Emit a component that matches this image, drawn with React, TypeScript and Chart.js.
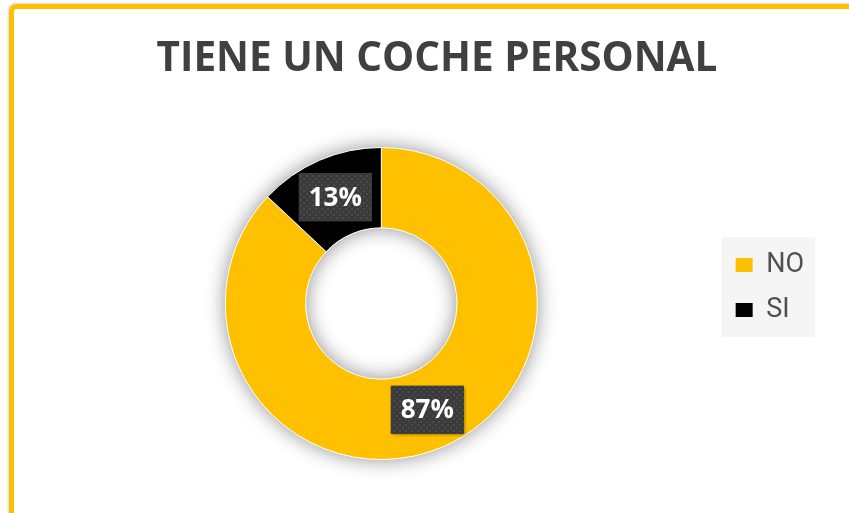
import React, { useEffect, useRef } from 'react';
import { Chart, registerables } from 'chart.js';

Chart.register(...registerables);

const chartTitle = 'TIENE UN COCHE PERSONAL';
const categories = ['NO', 'SI'];
const values = [87, 13];
const sliceColors = ['#FFC000', '#000000'];

const ringShadow = {
  id: 'ringShadow',
  beforeDatasetsDraw(chart: any) {
    const arc = chart.getDatasetMeta(0).data[0];
    if (!arc) return;
    const { x, y, outerRadius, innerRadius } = arc.getProps(['x', 'y', 'outerRadius', 'innerRadius'], true);
    const ctx = chart.ctx;
    ctx.save();
    ctx.beginPath();
    ctx.arc(x, y, outerRadius, 0, Math.PI * 2);
    ctx.moveTo(x + innerRadius, y);
    ctx.arc(x, y, innerRadius, 0, Math.PI * 2, true);
    ctx.closePath();
    ctx.shadowColor = 'rgba(0,0,0,0.45)';
    ctx.shadowBlur = 20;
    ctx.fillStyle = '#ffffff';
    ctx.fill('evenodd');
    ctx.restore();
  },
};

const legendPanel = {
  id: 'legendPanel',
  beforeDraw(chart: any) {
    const boxes = chart.legend && chart.legend.legendHitBoxes;
    if (!boxes || !boxes.length) return;
    const first = boxes[0];
    const last = boxes[boxes.length - 1];
    const left = Math.min(...boxes.map((b: any) => b.left)) - 14;
    const right = Math.max(...boxes.map((b: any) => b.left + b.width)) + 11;
    const top = first.top - 14.5;
    const bottom = last.top + last.height + 13.5;
    const ctx = chart.ctx;
    ctx.save();
    ctx.fillStyle = '#f5f5f5';
    ctx.fillRect(left, top, right - left, bottom - top);
    ctx.restore();
  },
};

function makePattern(ctx: CanvasRenderingContext2D) {
  const c = document.createElement('canvas');
  c.width = 6;
  c.height = 6;
  const p = c.getContext('2d')!;
  p.fillStyle = '#3a3a3a';
  p.fillRect(0, 0, 6, 6);
  p.fillStyle = '#4a4a4a';
  p.fillRect(1, 1, 2, 2);
  p.fillRect(4, 4, 2, 2);
  return ctx.createPattern(c, 'repeat');
}

const sliceLabels = {
  id: 'sliceLabels',
  afterDatasetsDraw(chart: any) {
    const meta = chart.getDatasetMeta(0);
    const data = chart.data.datasets[0].data as number[];
    const total = data.reduce((a, b) => a + b, 0);
    const ctx: CanvasRenderingContext2D = chart.ctx;
    const pattern = makePattern(ctx);
    ctx.save();
    ctx.font = 'bold 26px "Open Sans"';
    meta.data.forEach((arc: any, i: number) => {
      const p = arc.tooltipPosition(true);
      const text = Math.round((data[i] / total) * 100) + '%';
      const w = Math.round(ctx.measureText(text).width + 20);
      const h = 48;
      const bx = p.x - w / 2;
      const by = p.y - h / 2;
      ctx.save();
      ctx.shadowColor = 'rgba(0,0,0,0.45)';
      ctx.shadowBlur = 3;
      ctx.shadowOffsetX = 1.5;
      ctx.shadowOffsetY = 1.5;
      ctx.fillStyle = '#3a3a3a';
      ctx.fillRect(bx, by, w, h);
      ctx.restore();
      if (pattern) {
        ctx.fillStyle = pattern;
        ctx.fillRect(bx, by, w, h);
      }
      ctx.fillStyle = '#ffffff';
      ctx.textAlign = 'center';
      ctx.textBaseline = 'middle';
      ctx.fillText(text, p.x, p.y + 1);
    });
    ctx.restore();
  },
};

export default function App() {
  const ref = useRef<HTMLCanvasElement>(null);

  useEffect(() => {
    if (!ref.current) return;
    const baseGen = (Chart as any).overrides.doughnut.plugins.legend.labels.generateLabels;
    const chart = new Chart(ref.current, {
      type: 'doughnut',
      data: {
        labels: categories,
        datasets: [
          {
            data: values,
            backgroundColor: sliceColors,
            borderColor: '#ffffff',
            borderWidth: 1,
          },
        ],
      },
      options: {
        responsive: false,
        animation: false,
        devicePixelRatio: 1,
        events: [],
        radius: 156,
        cutout: '48.5%',
        layout: { padding: { left: 31, right: 35, top: 224.5, bottom: 139.5 } },
        plugins: {
          title: { display: false },
          tooltip: { enabled: false },
          legend: {
            position: 'right',
            align: 'start',
            fullSize: false,
            labels: {
              boxWidth: 17,
              boxHeight: 14,
              padding: 18,
              color: '#505050',
              font: { family: 'Roboto', size: 27 },
              generateLabels: (c: any) => baseGen(c).map((l: any) => ({ ...l, lineWidth: 0 })),
            },
          },
        },
      } as any,
      plugins: [ringShadow, legendPanel, sliceLabels],
    });
    return () => chart.destroy();
  }, []);

  return (
    <div
      style={{
        position: 'fixed',
        left: 0,
        top: 0,
        width: 849,
        height: 513,
        overflow: 'hidden',
        background: '#ffffff',
      }}
    >
      <div
        style={{
          position: 'absolute',
          left: 9,
          top: 4,
          width: 856,
          height: 540,
          boxSizing: 'border-box',
          border: '5px solid #FFC000',
          borderRadius: 7,
          boxShadow: '-1px -1px 2px rgba(0,0,0,0.15)',
        }}
      >
        <canvas ref={ref} width={835} height={504} style={{ position: 'absolute', left: 0, top: 0 }} />
        <div
          style={{
            position: 'absolute',
            left: 0,
            right: 0,
            top: 27,
            textAlign: 'center',
            font: 'bold 40.5px/40px "Open Sans"',
            color: '#404040',
            whiteSpace: 'nowrap',
          }}
        >
          {chartTitle}
        </div>
      </div>
    </div>
  );
}
